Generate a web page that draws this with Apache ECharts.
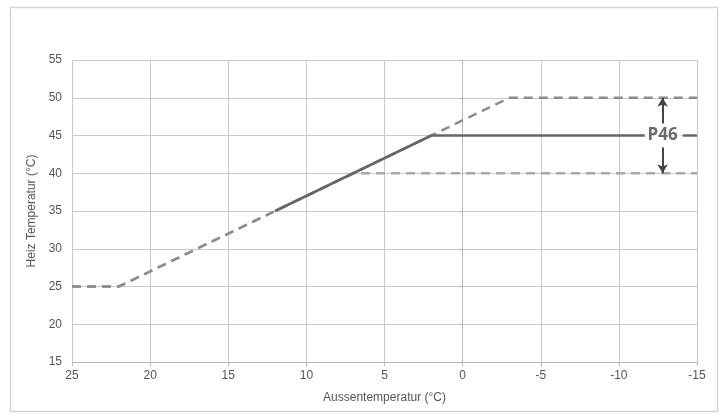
<!DOCTYPE html>
<html><head><meta charset="utf-8">
<script src="https://cdn.jsdelivr.net/npm/echarts@6/dist/echarts.min.js"></script>
<style>html,body{margin:0;padding:0;background:#fff}#c{width:723px;height:419px}</style>
</head><body><div id="c"></div>
<script>
// Data
const xTicks = [25, 20, 15, 10, 5, 0, -5, -10, -15];
const yTicks = [15, 20, 25, 30, 35, 40, 45, 50, 55];
const curveMax = [[25, 25], [22, 25], [-3, 50], [-15, 50]];   // P46 = 50
const curveMin = [[25, 25], [22, 25], [7, 40], [-15, 40]];    // P46 = 40
const curveSet = [[12, 35], [2, 45], [-11.7, 45]];            // P46 = 45 (solid)
const curveSetTail = [[-14.1, 45], [-15, 45]];
const labelPoint = [[-12.8, 45]];
const labelText = 'P46';
const arrowUp = [[-12.8, 46.6], [-12.8, 50]];
const arrowDown = [[-12.8, 43.4], [-12.8, 40]];
const xName = 'Aussentemperatur (°C)';
const yName = 'Heiz Temperatur (°C)';

const chart = echarts.init(document.getElementById('c'), null, {renderer: 'canvas'});
const gridColor = '#c9c9c9';
const dashColor = '#8c8c8c';
const solidColor = '#666666';
const font = '"Liberation Sans Narrow", "Liberation Sans", Arial, sans-serif';

function arrowLine(pts) {
  return [{coord: pts[0]}, {coord: pts[1]}];
}

chart.setOption({
  animation: false,
  graphic: [{
    type: 'rect', shape: {x: 10.5, y: 7.5, width: 707, height: 404},
    style: {fill: 'none', stroke: '#d6d6d6', lineWidth: 1.5}, silent: true
  }],
  grid: {left: 72, right: 26, top: 60, bottom: 57},
  xAxis: {
    type: 'value', inverse: true, min: -15, max: 25, interval: 5,
    name: xName, nameLocation: 'middle', nameGap: 30,
    nameTextStyle: {color: '#555', fontSize: 12, fontFamily: font},
    axisLine: {show: true, lineStyle: {color: '#b8b8b8', width: 1}},
    axisTick: {show: true, length: 4, lineStyle: {color: '#b8b8b8'}},
    axisLabel: {color: '#555', fontSize: 12, fontFamily: font, margin: 8},
    splitLine: {show: true, lineStyle: {color: gridColor, width: 1}}
  },
  yAxis: {
    type: 'value', min: 15, max: 55, interval: 5,
    name: yName, nameLocation: 'middle', nameGap: 24, nameRotate: 90,
    nameTextStyle: {color: '#555', fontSize: 12, fontFamily: font},
    axisLine: {show: true, lineStyle: {color: '#b8b8b8', width: 1}},
    axisTick: {show: true, length: 4, lineStyle: {color: '#b8b8b8'}},
    axisLabel: {color: '#555', fontSize: 12, fontFamily: font, margin: 10},
    splitLine: {show: true, lineStyle: {color: gridColor, width: 1}}
  },
  series: [
    {type: 'line', data: curveMin, symbol: 'none', z: 3,
     lineStyle: {color: '#a8a8a8', width: 2.5, type: [9, 6]}},
    {type: 'line', data: curveMax, symbol: 'none', z: 4,
     lineStyle: {color: dashColor, width: 2.5, type: [9, 6]}},
    {type: 'line', data: curveSet, symbol: 'none', z: 5,
     lineStyle: {color: solidColor, width: 2.5, type: 'solid'}},
    {type: 'line', data: curveSetTail, symbol: 'none', z: 5,
     lineStyle: {color: solidColor, width: 2.5, type: 'solid'},
     markLine: {
       silent: true, symbol: ['none', 'arrow'], symbolSize: [8, 9],
       label: {show: false},
       lineStyle: {color: '#444', width: 2, type: 'solid'},
       data: [arrowLine(arrowUp), arrowLine(arrowDown)]
     }},
    {type: 'scatter', data: labelPoint, symbolSize: 1, z: 7,
     itemStyle: {color: 'rgba(0,0,0,0)'},
     label: {show: true, position: 'inside', formatter: labelText, color: '#444',
             fontSize: 17, fontWeight: 'bold', fontFamily: '"Open Sans", "Liberation Sans", sans-serif',
             backgroundColor: '#fff', padding: [0, 3]}}
  ]
});
</script></body></html>
